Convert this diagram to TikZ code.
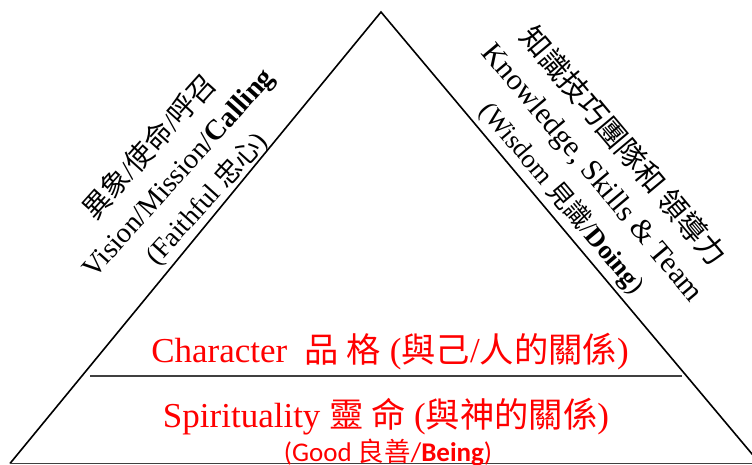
\documentclass[tikz,border=0pt]{standalone}
\usepackage{fontspec}
\setmainfont{Liberation Serif}
\newfontfamily\cjk{Noto Sans CJK TC}[Scale=0.98]
\newfontfamily\calibri{Carlito}
\usepackage{tikz}

\tikzset{
  side/.style={line width=1.6pt, black},
  layer/.style={line width=1.2pt, black!75},
  level/.style={text=red, font=\fontsize{35}{40}\selectfont, anchor=base},
  slant/.style={align=center, anchor=center}
}

\begin{document}
\begin{tikzpicture}[x=1pt, y=-1pt]

            \useasboundingbox (0,0) rectangle (752,465);

            % Corners

            \coordinate (top) at (381,12);
            \coordinate (bl) at (10,463.5);
            \coordinate (br) at (760,463.5);
            \coordinate (ml) at (90,376);
            \coordinate (mr) at (682,376);

            % Triangle

            \draw[side] (bl) -- (top) -- (br);
            \draw[layer] (bl) -- (br);
            \draw[layer] (ml) -- (mr);

            % Nodes

            \node[level] (char) at (390,362) {Character\ \ {\cjk 品 格} ({\cjk 與己}/{\cjk 人的關係})};
            \node[level] (spirit) at (386,427) {Spirituality {\cjk 靈 命} ({\cjk 與神的關係})};
            \node[anchor=base, text=red, font=\calibri\fontsize{27}{30}\selectfont] (good) at (388,461) {(Good {\cjk 良善}/\textbf{Being})};

            \node[slant, rotate=48, font=\fontsize{28.5}{38}\selectfont] (vision) at (178,173) {{\cjk 異象}/{\cjk 使命}/{\cjk 呼召}\\ Vision/Mission/\textbf{Calling}\\ {\fontsize{27.5}{38}\selectfont (Faithful {\cjk 忠心})}};
            \node[slant, rotate=-50, font=\fontsize{30}{39}\selectfont] (skills) at (593,172) {{\cjk 知識技巧團隊和 領導力}\\ Knowledge, Skills \& Team\\ {\fontsize{26.5}{39}\selectfont (Wisdom {\cjk 見識}/\textbf{Doing})}};

\end{tikzpicture}
\end{document}
